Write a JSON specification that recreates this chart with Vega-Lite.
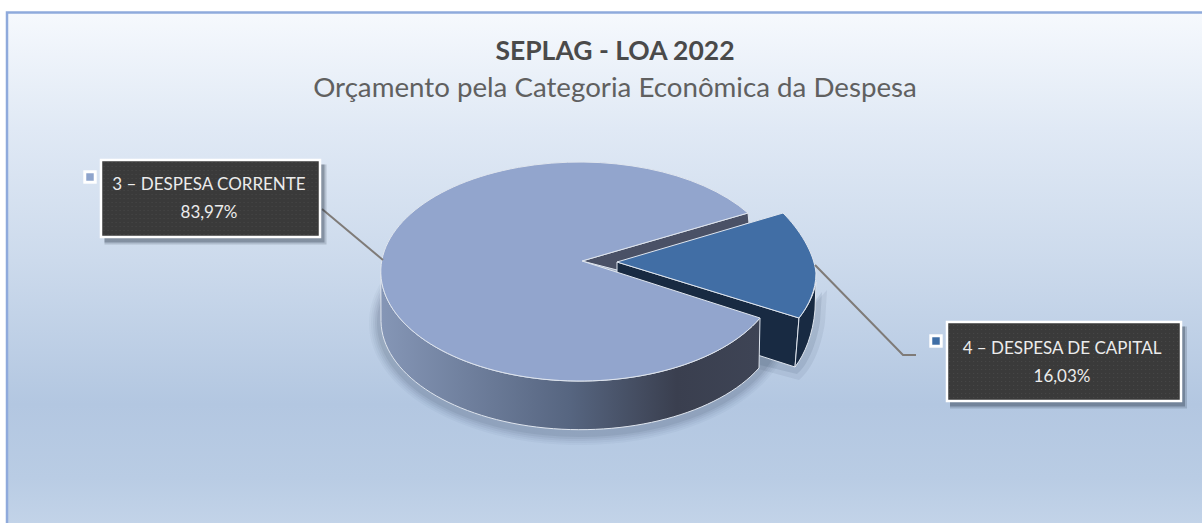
{
"$schema":"https://vega.github.io/schema/vega-lite/v6.json",
"width":1202,"height":523,"padding":0,"autosize":{"type":"none"},
"background":"#ffffff",
"view":{"stroke":null},
"title":{"text":"SEPLAG - LOA 2022","subtitle":"Orçamento pela Categoria Econômica da Despesa","anchor":"middle","dx":14,"offset":-103,"font":"Lato","fontSize":26.5,"fontWeight":"bold","color":"#4a4a4a","subtitleFont":"Lato","subtitleFontSize":27.7,"subtitleColor":"#606060","subtitlePadding":10},
"data":{"values":[
{"categoria":"3 – DESPESA CORRENTE","valor":83.97,"rotulo":"83,97%"},
{"categoria":"4 – DESPESA DE CAPITAL","valor":16.03,"rotulo":"16,03%"}
]},
"resolve":{"scale":{"x":"independent","y":"independent","shape":"independent","color":"independent"}},
"layer":[
{"transform":[{"filter":"datum.valor > 50"}],
 "mark":{"type":"point","filled":true,"opacity":1,"size":4,"stroke":"#8faadc","strokeWidth":2.5,
  "fill":{"gradient":"linear","x1":0,"y1":0,"x2":0,"y2":1,"stops":[{"offset":0,"color":"#f6f9fd"},{"offset":0.22,"color":"#e0e9f5"},{"offset":0.47,"color":"#ccdaec"},{"offset":0.74,"color":"#b3c7e1"},{"offset":0.88,"color":"#b9cce4"},{"offset":1,"color":"#c6d6ea"}]},
  "shape":"M-594 -249H620V280H-594Z"},
 "encoding":{"x":{"field":"categoria","type":"nominal","axis":null,"scale":{"type":"point","padding":0,"domain":["3 – DESPESA CORRENTE","4 – DESPESA DE CAPITAL"],"range":[601,1000]}},
  "y":{"field":"categoria","type":"nominal","axis":null,"scale":{"type":"point","padding":0,"domain":["3 – DESPESA CORRENTE","4 – DESPESA DE CAPITAL"],"range":[261.5,300]}}}},
{"transform":[{"filter":"datum.valor > 50"}],
 "mark":{"type":"point","filled":true,"opacity":0.035,"size":4,"color":"#22304a","shape":"M-213 62A211 122 0 1 0 209 62A211 122 0 1 0 -213 62Z"},
 "encoding":{"x":{"field":"categoria","type":"nominal","axis":null,"scale":{"type":"point","padding":0,"domain":["3 – DESPESA CORRENTE","4 – DESPESA DE CAPITAL"],"range":[582,617]}},
  "y":{"field":"categoria","type":"nominal","axis":null,"scale":{"type":"point","padding":0,"domain":["3 – DESPESA CORRENTE","4 – DESPESA DE CAPITAL"],"range":[261,262]}}}},
{"transform":[{"filter":"datum.valor > 50"}],
 "mark":{"type":"point","filled":true,"opacity":0.04,"size":4,"color":"#22304a","shape":"M-211 62A209 120 0 1 0 207 62A209 120 0 1 0 -211 62Z"},
 "encoding":{"x":{"field":"categoria","type":"nominal","axis":null,"scale":{"type":"point","padding":0,"domain":["3 – DESPESA CORRENTE","4 – DESPESA DE CAPITAL"],"range":[582,617]}},
  "y":{"field":"categoria","type":"nominal","axis":null,"scale":{"type":"point","padding":0,"domain":["3 – DESPESA CORRENTE","4 – DESPESA DE CAPITAL"],"range":[261,262]}}}},
{"transform":[{"filter":"datum.valor > 50"}],
 "mark":{"type":"point","filled":true,"opacity":0.05,"size":4,"color":"#22304a","shape":"M-209 62A207 118 0 1 0 205 62A207 118 0 1 0 -209 62Z"},
 "encoding":{"x":{"field":"categoria","type":"nominal","axis":null,"scale":{"type":"point","padding":0,"domain":["3 – DESPESA CORRENTE","4 – DESPESA DE CAPITAL"],"range":[582,617]}},
  "y":{"field":"categoria","type":"nominal","axis":null,"scale":{"type":"point","padding":0,"domain":["3 – DESPESA CORRENTE","4 – DESPESA DE CAPITAL"],"range":[261,262]}}}},
{"transform":[{"filter":"datum.valor > 50"}],
 "mark":{"type":"point","filled":true,"opacity":0.06,"size":4,"color":"#22304a","shape":"M-207 62A205 116 0 1 0 203 62A205 116 0 1 0 -207 62Z"},
 "encoding":{"x":{"field":"categoria","type":"nominal","axis":null,"scale":{"type":"point","padding":0,"domain":["3 – DESPESA CORRENTE","4 – DESPESA DE CAPITAL"],"range":[582,617]}},
  "y":{"field":"categoria","type":"nominal","axis":null,"scale":{"type":"point","padding":0,"domain":["3 – DESPESA CORRENTE","4 – DESPESA DE CAPITAL"],"range":[261,262]}}}},
{"transform":[{"filter":"datum.valor > 50"}],
 "mark":{"type":"point","filled":true,"opacity":0.08,"size":4,"color":"#22304a","shape":"M-205 62A203 114 0 1 0 201 62A203 114 0 1 0 -205 62Z"},
 "encoding":{"x":{"field":"categoria","type":"nominal","axis":null,"scale":{"type":"point","padding":0,"domain":["3 – DESPESA CORRENTE","4 – DESPESA DE CAPITAL"],"range":[582,617]}},
  "y":{"field":"categoria","type":"nominal","axis":null,"scale":{"type":"point","padding":0,"domain":["3 – DESPESA CORRENTE","4 – DESPESA DE CAPITAL"],"range":[261,262]}}}},
{"transform":[{"filter":"datum.valor < 50"}],
 "mark":{"type":"point","filled":true,"opacity":0.07,"size":4,"color":"#22304a","shape":"M182 60L210 28L208 60C204 88 194 108 182 118L130 104Z"},
 "encoding":{"x":{"field":"categoria","type":"nominal","axis":null,"scale":{"type":"point","padding":0,"domain":["3 – DESPESA CORRENTE","4 – DESPESA DE CAPITAL"],"range":[582,617]}},
  "y":{"field":"categoria","type":"nominal","axis":null,"scale":{"type":"point","padding":0,"domain":["3 – DESPESA CORRENTE","4 – DESPESA DE CAPITAL"],"range":[261,262]}}}},
{"transform":[{"filter":"datum.valor < 50"}],
 "mark":{"type":"point","filled":true,"opacity":0.1,"size":4,"color":"#22304a","shape":"M182 60L205 30L203 60C199 84 190 104 180 112L130 100Z"},
 "encoding":{"x":{"field":"categoria","type":"nominal","axis":null,"scale":{"type":"point","padding":0,"domain":["3 – DESPESA CORRENTE","4 – DESPESA DE CAPITAL"],"range":[582,617]}},
  "y":{"field":"categoria","type":"nominal","axis":null,"scale":{"type":"point","padding":0,"domain":["3 – DESPESA CORRENTE","4 – DESPESA DE CAPITAL"],"range":[261,262]}}}},
{"transform":[{"filter":"datum.valor > 50"}],
 "mark":{"type":"point","filled":true,"opacity":1,"size":4,"color":"#4a5166","stroke":"#dfe5ee","strokeWidth":1,"shape":"M0 0L166 -48L167 -38L35 9Z"},
 "encoding":{"x":{"field":"categoria","type":"nominal","axis":null,"scale":{"type":"point","padding":0,"domain":["3 – DESPESA CORRENTE","4 – DESPESA DE CAPITAL"],"range":[582,617]}},
  "y":{"field":"categoria","type":"nominal","axis":null,"scale":{"type":"point","padding":0,"domain":["3 – DESPESA CORRENTE","4 – DESPESA DE CAPITAL"],"range":[261,262]}}}},
{"transform":[{"filter":"datum.valor < 50"}],
 "mark":{"type":"point","filled":true,"opacity":1,"size":4,"color":"#182a42","stroke":"#dfe5ee","strokeWidth":1,"shape":"M0 0L182 56L178 105L0 48Z"},
 "encoding":{"x":{"field":"categoria","type":"nominal","axis":null,"scale":{"type":"point","padding":0,"domain":["4 – DESPESA DE CAPITAL","3 – DESPESA CORRENTE"],"range":[617,582]}},
  "y":{"field":"categoria","type":"nominal","axis":null,"scale":{"type":"point","padding":0,"domain":["4 – DESPESA DE CAPITAL","3 – DESPESA CORRENTE"],"range":[262,261]}}}},
{"transform":[{"filter":"datum.valor < 50"}],
 "mark":{"type":"point","filled":true,"opacity":1,"size":4,"color":"#182a42","stroke":"#dfe5ee","strokeWidth":1,"shape":"M182 56C190 46 197 33 199 20L198 48C196 72 188 92 178 105Z"},
 "encoding":{"x":{"field":"categoria","type":"nominal","axis":null,"scale":{"type":"point","padding":0,"domain":["4 – DESPESA DE CAPITAL","3 – DESPESA CORRENTE"],"range":[617,582]}},
  "y":{"field":"categoria","type":"nominal","axis":null,"scale":{"type":"point","padding":0,"domain":["4 – DESPESA DE CAPITAL","3 – DESPESA CORRENTE"],"range":[262,261]}}}},
{"transform":[{"filter":"datum.valor < 50"}],
 "mark":{"type":"point","filled":true,"opacity":1,"size":4,"color":"#416ea5","stroke":"#dfe5ee","strokeWidth":1,"shape":"M0 0L166 -49C182 -33 197 -10 199 11C199 28 192 43 182 56Z"},
 "encoding":{"x":{"field":"categoria","type":"nominal","axis":null,"scale":{"type":"point","padding":0,"domain":["4 – DESPESA DE CAPITAL","3 – DESPESA CORRENTE"],"range":[617,582]}},
  "y":{"field":"categoria","type":"nominal","axis":null,"scale":{"type":"point","padding":0,"domain":["4 – DESPESA DE CAPITAL","3 – DESPESA CORRENTE"],"range":[262,261]}}}},
{"transform":[{"filter":"datum.valor > 50"}],
 "mark":{"type":"point","filled":true,"opacity":1,"size":4,"stroke":"#dfe5ee","strokeWidth":1,"shape":"M-201.2 10.5A199 109.5 0 0 0 178 57L177 107A199 109.5 0 0 1 -201 60.5Z",
  "fill":{"gradient":"linear","x1":0,"y1":0,"x2":1,"y2":0,"stops":[{"offset":0,"color":"#8596b6"},{"offset":0.5,"color":"#566580"},{"offset":0.78,"color":"#3a3f4f"},{"offset":1,"color":"#3e4455"}]}},
 "encoding":{"x":{"field":"categoria","type":"nominal","axis":null,"scale":{"type":"point","padding":0,"domain":["3 – DESPESA CORRENTE","4 – DESPESA DE CAPITAL"],"range":[582,617]}},
  "y":{"field":"categoria","type":"nominal","axis":null,"scale":{"type":"point","padding":0,"domain":["3 – DESPESA CORRENTE","4 – DESPESA DE CAPITAL"],"range":[261,262]}}}},
{"transform":[{"filter":"datum.valor > 50"}],
 "mark":{"type":"point","filled":true,"opacity":1,"size":4,"color":"#92a5cd","stroke":"#dfe5ee","strokeWidth":1,"shape":"M0 0L166 -48A199 109.5 0 1 0 178 57Z"},
 "encoding":{"x":{"field":"categoria","type":"nominal","axis":null,"scale":{"type":"point","padding":0,"domain":["3 – DESPESA CORRENTE","4 – DESPESA DE CAPITAL"],"range":[582,617]}},
  "y":{"field":"categoria","type":"nominal","axis":null,"scale":{"type":"point","padding":0,"domain":["3 – DESPESA CORRENTE","4 – DESPESA DE CAPITAL"],"range":[261,262]}}}},
{"mark":{"type":"point","filled":false,"opacity":1,"size":4,"stroke":"#7f7b78","strokeWidth":2},
 "encoding":{"x":{"field":"categoria","type":"nominal","axis":null,"scale":{"type":"point","padding":0,"domain":["3 – DESPESA CORRENTE","4 – DESPESA DE CAPITAL"],"range":[210.5,1064]}},
  "y":{"field":"categoria","type":"nominal","axis":null,"scale":{"type":"point","padding":0,"domain":["3 – DESPESA CORRENTE","4 – DESPESA DE CAPITAL"],"range":[198.5,361.5]}},
  "shape":{"field":"categoria","type":"nominal","legend":null,"scale":{"domain":["3 – DESPESA CORRENTE","4 – DESPESA DE CAPITAL"],"range":["M111.5 10.5L172.5 61.5","M-249 -96.5L-161 -6.5H-148"]}}}},
{"mark":{"type":"point","filled":true,"opacity":0.18,"size":4,"color":"#1f2a3c"},
 "encoding":{"x":{"field":"categoria","type":"nominal","axis":null,"scale":{"type":"point","padding":0,"domain":["3 – DESPESA CORRENTE","4 – DESPESA DE CAPITAL"],"range":[210.5,1064]}},
  "y":{"field":"categoria","type":"nominal","axis":null,"scale":{"type":"point","padding":0,"domain":["3 – DESPESA CORRENTE","4 – DESPESA DE CAPITAL"],"range":[198.5,361.5]}},
  "shape":{"field":"categoria","type":"nominal","legend":null,"scale":{"domain":["3 – DESPESA CORRENTE","4 – DESPESA DE CAPITAL"],"range":["M-106 -34H116V46H-106Z","M-114 -35H123V47H-114Z"]}}}},
{"mark":{"type":"point","filled":true,"opacity":0.3,"size":4,"color":"#1f2a3c"},
 "encoding":{"x":{"field":"categoria","type":"nominal","axis":null,"scale":{"type":"point","padding":0,"domain":["3 – DESPESA CORRENTE","4 – DESPESA DE CAPITAL"],"range":[210.5,1064]}},
  "y":{"field":"categoria","type":"nominal","axis":null,"scale":{"type":"point","padding":0,"domain":["3 – DESPESA CORRENTE","4 – DESPESA DE CAPITAL"],"range":[198.5,361.5]}},
  "shape":{"field":"categoria","type":"nominal","legend":null,"scale":{"domain":["3 – DESPESA CORRENTE","4 – DESPESA DE CAPITAL"],"range":["M-106 -34H114V44H-106Z","M-114 -35H121V45H-114Z"]}}}},
{"mark":{"type":"point","filled":true,"opacity":1,"size":4,"color":"#3a3a3a","stroke":"#ffffff","strokeWidth":2.5},
 "encoding":{"x":{"field":"categoria","type":"nominal","axis":null,"scale":{"type":"point","padding":0,"domain":["3 – DESPESA CORRENTE","4 – DESPESA DE CAPITAL"],"range":[210.5,1064]}},
  "y":{"field":"categoria","type":"nominal","axis":null,"scale":{"type":"point","padding":0,"domain":["3 – DESPESA CORRENTE","4 – DESPESA DE CAPITAL"],"range":[198.5,361.5]}},
  "shape":{"field":"categoria","type":"nominal","legend":null,"scale":{"domain":["3 – DESPESA CORRENTE","4 – DESPESA DE CAPITAL"],"range":["M-109.5 -38.5H109.5V38.5H-109.5Z","M-117 -39.5H117V39.5H-117Z"]}}}},
{"mark":{"type":"point","filled":false,"opacity":1,"size":4,"stroke":"#464646","strokeWidth":1.2,"strokeDash":[1.2,2.8]},
 "encoding":{"x":{"field":"categoria","type":"nominal","axis":null,"scale":{"type":"point","padding":0,"domain":["3 – DESPESA CORRENTE","4 – DESPESA DE CAPITAL"],"range":[210.5,1064]}},
  "y":{"field":"categoria","type":"nominal","axis":null,"scale":{"type":"point","padding":0,"domain":["3 – DESPESA CORRENTE","4 – DESPESA DE CAPITAL"],"range":[198.5,361.5]}},
  "shape":{"field":"categoria","type":"nominal","legend":null,"scale":{"domain":["3 – DESPESA CORRENTE","4 – DESPESA DE CAPITAL"],"range":["M-107 -36H107M-107 -32H107M-107 -28H107M-107 -24H107M-107 -20H107M-107 -16H107M-107 -12H107M-107 -8H107M-107 -4H107M-107 0H107M-107 4H107M-107 8H107M-107 12H107M-107 16H107M-107 20H107M-107 24H107M-107 28H107M-107 32H107M-107 36H107","M-115 -36H115M-115 -32H115M-115 -28H115M-115 -24H115M-115 -20H115M-115 -16H115M-115 -12H115M-115 -8H115M-115 -4H115M-115 0H115M-115 4H115M-115 8H115M-115 12H115M-115 16H115M-115 20H115M-115 24H115M-115 28H115M-115 32H115M-115 36H115"]}}}},
{"mark":{"type":"text","font":"Lato","fontSize":17,"color":"#ececec","align":"center","baseline":"middle"},
 "encoding":{"text":{"field":"categoria"},
  "x":{"field":"categoria","type":"nominal","axis":null,"scale":{"type":"point","padding":0,"domain":["3 – DESPESA CORRENTE","4 – DESPESA DE CAPITAL"],"range":[209,1062]}},
  "y":{"field":"categoria","type":"nominal","axis":null,"scale":{"type":"point","padding":0,"domain":["3 – DESPESA CORRENTE","4 – DESPESA DE CAPITAL"],"range":[185,349]}}}},
{"mark":{"type":"text","font":"Lato","fontSize":17,"color":"#ececec","align":"center","baseline":"middle"},
 "encoding":{"text":{"field":"rotulo"},
  "x":{"field":"categoria","type":"nominal","axis":null,"scale":{"type":"point","padding":0,"domain":["3 – DESPESA CORRENTE","4 – DESPESA DE CAPITAL"],"range":[209,1062]}},
  "y":{"field":"categoria","type":"nominal","axis":null,"scale":{"type":"point","padding":0,"domain":["3 – DESPESA CORRENTE","4 – DESPESA DE CAPITAL"],"range":[213,377]}}}},
{"mark":{"type":"point","filled":true,"opacity":1,"shape":"square","size":180,"color":"#ffffff"},
 "encoding":{"x":{"field":"categoria","type":"nominal","axis":null,"scale":{"type":"point","padding":0,"domain":["3 – DESPESA CORRENTE","4 – DESPESA DE CAPITAL"],"range":[90,936]}},
  "y":{"field":"categoria","type":"nominal","axis":null,"scale":{"type":"point","padding":0,"domain":["3 – DESPESA CORRENTE","4 – DESPESA DE CAPITAL"],"range":[177,341]}}}},
{"mark":{"type":"point","filled":true,"opacity":1,"shape":"square","size":56},
 "encoding":{"x":{"field":"categoria","type":"nominal","axis":null,"scale":{"type":"point","padding":0,"domain":["3 – DESPESA CORRENTE","4 – DESPESA DE CAPITAL"],"range":[90,936]}},
  "y":{"field":"categoria","type":"nominal","axis":null,"scale":{"type":"point","padding":0,"domain":["3 – DESPESA CORRENTE","4 – DESPESA DE CAPITAL"],"range":[177,341]}},
  "color":{"field":"categoria","type":"nominal","legend":null,"scale":{"domain":["3 – DESPESA CORRENTE","4 – DESPESA DE CAPITAL"],"range":["#8ea4cc","#3f6ea6"]}}}}
]}
